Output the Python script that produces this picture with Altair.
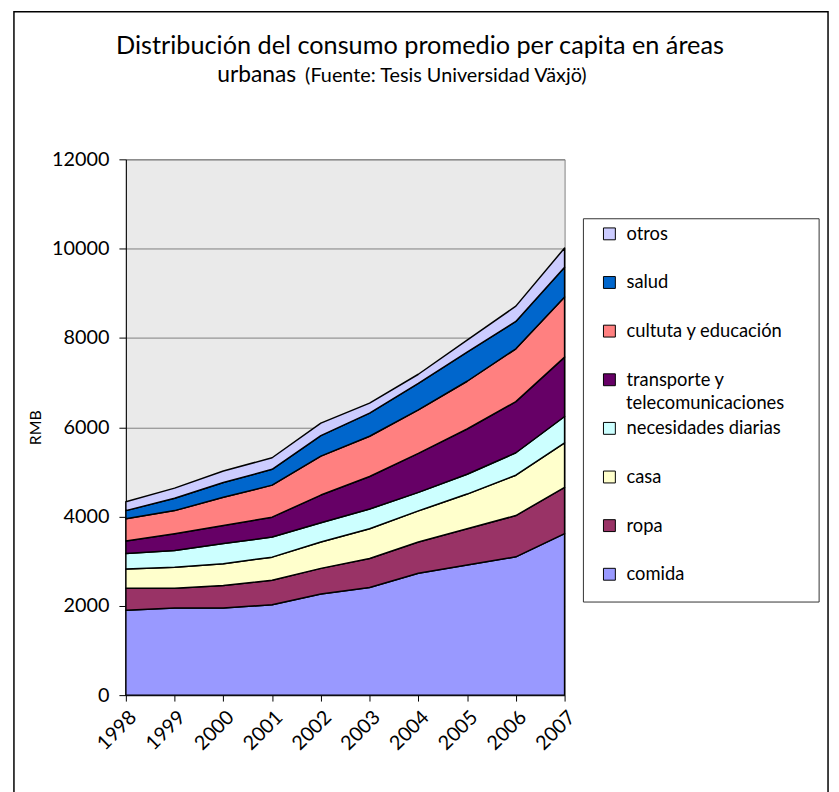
import altair as alt
import pandas as pd

years = [1998, 1999, 2000, 2001, 2002, 2003, 2004, 2005, 2006, 2007]
categories = ["comida", "ropa", "casa", "necesidades diarias",
              "transporte y telecomunicaciones", "cultuta y educación", "salud", "otros"]
colors = ["#9999FF", "#993366", "#FFFFCC", "#CCFFFF", "#660066", "#FF8080", "#0066CC", "#CCCCFF"]

comida = [1901, 1952, 1952, 2025, 2263, 2411, 2729, 2913, 3098, 3616]
ropa = [495, 444, 503, 548, 576, 650, 702, 814, 924, 1036]
casa = [428, 466, 488, 517, 592, 666, 695, 776, 903, 998]
necesidades = [348, 377, 451, 452, 429, 443, 415, 444, 503, 590]
transporte = [281, 377, 406, 444, 621, 726, 872, 1013, 1145, 1331]
cultura = [496, 517, 630, 717, 873, 902, 977, 1070, 1184, 1347]
salud = [184, 275, 333, 355, 458, 518, 591, 652, 613, 665]
otros = [200, 228, 257, 259, 281, 224, 206, 268, 342, 431]

y_ticks = [0, 2000, 4000, 6000, 8000, 10000, 12000]
title_line1 = "Distribución del consumo promedio per capita en áreas"
title_line2a = "urbanas"
title_line2b = "(Fuente: Tesis Universidad Växjö)"
legend_wrap_line = "telecomunicaciones"

series = [comida, ropa, casa, necesidades, transporte, cultura, salud, otros]
rows = []
for i, (cat, vals) in enumerate(zip(categories, series)):
    for yr, v in zip(years, vals):
        rows.append({"year": yr, "cat": cat, "value": v, "idx": i})
df = pd.DataFrame(rows)

FONT = "Lato"

area = alt.Chart(df).mark_area(stroke="black", strokeWidth=1.5, strokeJoin="round").encode(
    x=alt.X("year:Q",
            scale=alt.Scale(domain=[1998, 2007], nice=False, zero=False),
            axis=alt.Axis(values=years, format="d", labelAngle=-45, title=None, grid=False,
                          labelAlign="right", labelBaseline="top",
                          labelFont=FONT, labelFontSize=20, labelColor="black",
                          domainColor="black", tickColor="black", tickSize=6,
                          labelPadding=6)),
    y=alt.Y("value:Q", stack="zero",
            scale=alt.Scale(domain=[0, 12000], nice=False),
            axis=alt.Axis(values=y_ticks, format="d", title="RMB", grid=True, gridColor="#808080",
                          gridWidth=1, labelFont=FONT, labelFontSize=20, labelColor="black",
                          domainColor="black", tickColor="black", tickSize=7,
                          labelPadding=10, titleFont=FONT, titleFontSize=16,
                          titleFontWeight="normal", titleColor="black", titlePadding=8)),
    color=alt.Color("cat:N",
                    scale=alt.Scale(domain=categories[::-1], range=colors[::-1]),
                    legend=alt.Legend(
                        title=None, orient="none", legendX=479, legendY=66,
                        symbolType="square", symbolSize=144, symbolStrokeColor="black",
                        symbolStrokeWidth=1, labelFont=FONT, labelFontSize=18.5,
                        labelColor="black", labelOffset=8, labelLimit=400,
                        rowPadding=30.1, padding=0,
                        labelExpr="datum.label == 'transporte y telecomunicaciones' ? 'transporte y' : datum.label")),
    order=alt.Order("idx:Q", sort="ascending"),
)

one = pd.DataFrame({"a": [0]})

border = alt.Chart(one).mark_rect(
    fill="transparent", stroke="black", strokeWidth=1.5
).encode(x=alt.value(-113), x2=alt.value(709), y=alt.value(-149), y2=alt.value(700))

legend_box = alt.Chart(one).mark_rect(
    fill="white", stroke="#333333", strokeWidth=1
).encode(x=alt.value(462), x2=alt.value(700), y=alt.value(60), y2=alt.value(447))

legend_line2 = alt.Chart(pd.DataFrame({"t": [legend_wrap_line]})).mark_text(
    font=FONT, fontSize=18.5, align="left", baseline="middle", color="black"
).encode(x=alt.value(505), y=alt.value(246.5), text="t:N")

t1 = alt.Chart(pd.DataFrame({"t": [title_line1]})).mark_text(
    font=FONT, fontSize=25.5, align="center", baseline="alphabetic", color="black"
).encode(x=alt.value(297), y=alt.value(-106), text="t:N")

t2a = alt.Chart(pd.DataFrame({"t": [title_line2a]})).mark_text(
    font=FONT, fontSize=23, align="right", baseline="alphabetic", color="black"
).encode(x=alt.value(172), y=alt.value(-78), text="t:N")

t2b = alt.Chart(pd.DataFrame({"t": [title_line2b]})).mark_text(
    font=FONT, fontSize=20, align="left", baseline="alphabetic", color="black"
).encode(x=alt.value(181), y=alt.value(-78), text="t:N")

chart = alt.layer(border, legend_box, area, legend_line2, t1, t2a, t2b).properties(
    width=443, height=541,
    padding={"left": 119, "top": 149, "right": 269, "bottom": 94},
    autosize=alt.AutoSizeParams(type="none"),
    background="white",
).configure_view(fill="#EAEAEA", stroke="#808080", strokeWidth=1)

chart.save("out.html", embed_options={"renderer": "svg", "actions": False})
